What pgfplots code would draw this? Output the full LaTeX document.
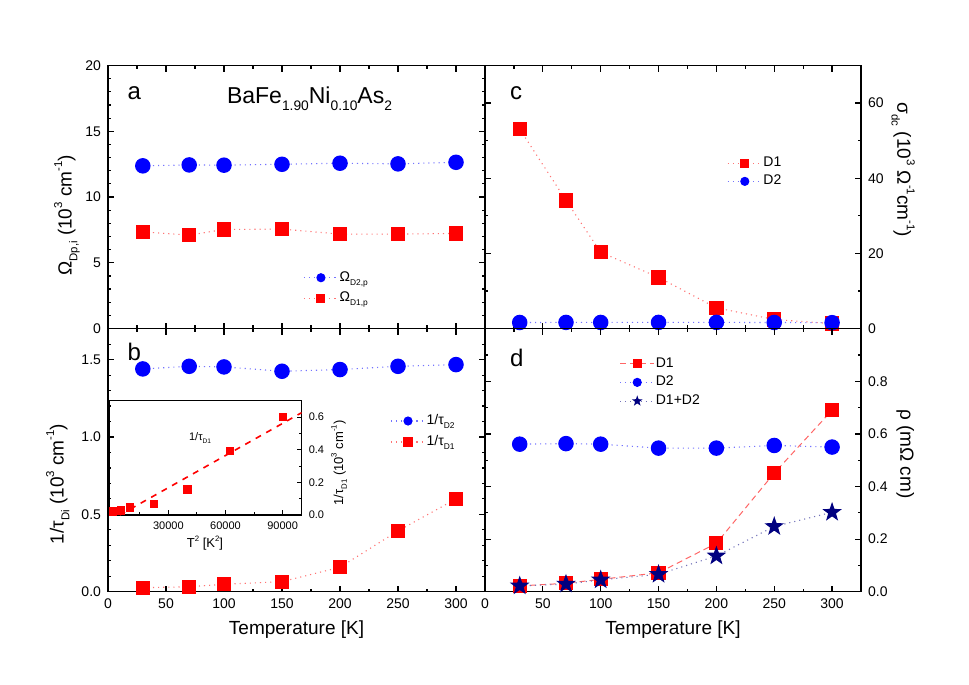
\documentclass[border=0pt]{standalone}
\usepackage{fontspec}
\setmainfont{Liberation Sans}
\usepackage{graphicx}
\usepackage{pgfplots}
\pgfplotsset{compat=1.18}
\usetikzlibrary{plotmarks}
\definecolor{Red}{HTML}{FF0000}
\definecolor{Blue}{HTML}{0000FF}
\definecolor{Navy}{HTML}{000080}

\newcommand{\fs}[1]{\fontsize{#1}{#1}\selectfont}
\newcommand{\lo}[1]{\raisebox{-0.3em}{\scalebox{0.6}{#1}}}
\newcommand{\hi}[1]{\raisebox{0.5em}{\scalebox{0.6}{#1}}}

% filled five-point star
\pgfdeclareplotmark{fstar}{%
  \pgfpathmoveto{\pgfpointpolar{90}{\pgfplotmarksize}}%
  \pgfpathlineto{\pgfpointpolar{126}{0.4\pgfplotmarksize}}%
  \pgfpathlineto{\pgfpointpolar{162}{\pgfplotmarksize}}%
  \pgfpathlineto{\pgfpointpolar{198}{0.4\pgfplotmarksize}}%
  \pgfpathlineto{\pgfpointpolar{234}{\pgfplotmarksize}}%
  \pgfpathlineto{\pgfpointpolar{270}{0.4\pgfplotmarksize}}%
  \pgfpathlineto{\pgfpointpolar{306}{\pgfplotmarksize}}%
  \pgfpathlineto{\pgfpointpolar{342}{0.4\pgfplotmarksize}}%
  \pgfpathlineto{\pgfpointpolar{18}{\pgfplotmarksize}}%
  \pgfpathlineto{\pgfpointpolar{54}{0.4\pgfplotmarksize}}%
  \pgfpathclose
  \pgfusepathqfillstroke}

\pgfplotsset{
  panel/.style={
    scale only axis, width=188.5pt, height=131.5pt,
    xmin=0, xmax=325, xtick={0,50,...,300}, minor xtick={25,75,...,325},
    tick align=inside, major tick length=3pt, minor tick length=1.6pt,
    axis line style={line width=0.75pt}, tick style={line width=0.6pt,black},
    tick label style={font=\fs{7}}, label style={font=\fs{9.5}},
    /pgf/number format/assume math mode=true,
    legend cell align=left,
    legend style={draw=none, fill=none, font=\fs{7}, anchor=north west, inner sep=0pt,
      nodes={inner sep=0.5pt, text height=5.2pt, text depth=1.8pt}},
    legend image post style={mark size=2pt},
  },
  onedec/.style={yticklabel style={/pgf/number format/.cd, fixed, fixed zerofill, precision=1}},
  bl/.style={Blue!55, dotted, line width=0.55pt, mark=*, mark size=3.6pt, mark options={solid, fill=Blue, draw=Blue}},
  rd/.style={Red!55, dotted, line width=0.55pt, mark=square*, mark size=3.3pt, mark options={solid, fill=Red, draw=Red}},
}

\begin{document}
\begin{tikzpicture}
\useasboundingbox (0,0) rectangle (484.5pt,-342.5pt);

% ---------- a ----------
\begin{axis}[panel, at={(54pt,-164.25pt)}, anchor=south west,
  ymin=0, ymax=20, ytick={0,5,...,20}, minor ytick={0,1,...,20}, xticklabels={},
  ylabel={Ω\lo{Dp,i} (10\hi{3} cm\hi{-1})},
  ylabel style={at={(rel axis cs:-0.109,0.43)}, anchor=center},
  legend style={at={(rel axis cs:0.517,0.225)}, row sep=2.2pt}]
\addplot[bl] coordinates {(30,12.37) (70,12.44) (100,12.42) (150,12.49) (200,12.57) (250,12.52) (300,12.64)};
\addlegendentry{Ω\lo{D2,p}}
\addplot[rd] coordinates {(30,7.35) (70,7.10) (100,7.53) (150,7.56) (200,7.18) (250,7.18) (300,7.23)};
\addlegendentry{Ω\lo{D1,p}}
\node[anchor=base west, font=\fs{12}] at (rel axis cs:0.033,0.869) {a};
\node[anchor=base west, font=\fs{11.5}] at (rel axis cs:0.297,0.856) {BaFe\lo{1.90}Ni\lo{0.10}As\lo{2}};
\end{axis}

% ---------- b ----------
\begin{axis}[panel, onedec, at={(54pt,-295.85pt)}, anchor=south west,
  ymin=0, ymax=1.7, ytick={0,0.5,1,1.5}, minor ytick={0,0.1,...,1.7},
  xlabel={Temperature [K]},
  xlabel style={at={(rel axis cs:0.5,-0.144)}, anchor=center},
  ylabel={1/τ\lo{Di} (10\hi{3} cm\hi{-1})},
  ylabel style={at={(rel axis cs:-0.133,0.41)}, anchor=center},
  legend style={at={(rel axis cs:0.748,0.681)}, row sep=2.5pt}]
\addplot[bl] coordinates {(30,1.440) (70,1.457) (100,1.453) (150,1.425) (200,1.436) (250,1.457) (300,1.468)};
\addlegendentry{1/τ\lo{D2}}
\addplot[rd] coordinates {(30,0.026) (70,0.032) (100,0.048) (150,0.065) (200,0.158) (250,0.393) (300,0.600)};
\addlegendentry{1/τ\lo{D1}}
\node[anchor=base west, font=\fs{12}] at (rel axis cs:0.033,0.881) {b};
\end{axis}

% ---------- inset of b ----------
\begin{axis}[scale only axis, width=96.2pt, height=57.15pt, at={(54.65pt,-257.5pt)}, anchor=south west,
  xmin=-1000, xmax=100000, ymin=0, ymax=0.7,
  xtick={30000,60000,90000}, minor xtick={15000,45000,75000},
  ytick={0,0.2,0.4,0.6}, minor ytick={0.1,0.3,0.5},
  xtick pos=bottom, ytick pos=right, yticklabel pos=right,
  tick align=inside, major tick length=2.5pt, minor tick length=1.3pt,
  axis line style={line width=0.7pt}, tick style={line width=0.5pt,black},
  scaled x ticks=false,
  /pgf/number format/assume math mode=true,
  xticklabel style={/pgf/number format/1000 sep={}},
  yticklabel style={/pgf/number format/.cd, fixed, fixed zerofill, precision=1},
  tick label style={font=\fs{5.5}}, label style={font=\fs{6.5}},
  xlabel={T\hi{2} [K\hi{2}]},
  xlabel style={at={(rel axis cs:0.497,-0.245)}, anchor=center},
  ylabel={1/τ\lo{D1} (10\hi{3} cm\hi{-1})},
  ylabel style={at={(rel axis cs:1.194,0.455)}, anchor=center, rotate=0}]
\addplot[Red, dashed, line width=0.8pt] coordinates {(4500,0.0) (100000,0.627)};
\addplot[only marks, mark=square*, mark size=1.8pt, mark options={fill=Red, draw=Red}] coordinates {(900,0.022) (4900,0.028) (10000,0.047) (22500,0.068) (40000,0.157) (62500,0.391) (90000,0.600)};
\node[anchor=base west, font=\fs{5.5}] at (rel axis cs:0.378,0.656) {1/τ\lo{D1}};
\end{axis}

% ---------- c ----------
\begin{axis}[panel, at={(242.5pt,-164.25pt)}, anchor=south west, width=188pt,
  ymin=0, ymax=70, ytick={0,20,40,60}, minor ytick={0,10,...,70}, xticklabels={},
  yticklabel pos=right,
  ylabel={σ\lo{dc} (10\hi{3} Ω\hi{-1}cm\hi{-1})},
  ylabel style={at={(rel axis cs:1.112,0.603)}, anchor=center, rotate=180},
  legend style={at={(rel axis cs:0.643,0.661)}, row sep=1.15pt}]
\addplot[rd] coordinates {(30,53.1) (70,34.1) (100,20.3) (150,13.6) (200,5.5) (250,2.4) (300,1.3)};
\addlegendentry{D1}
\addplot[bl] coordinates {(30,1.60) (70,1.62) (100,1.61) (150,1.63) (200,1.62) (250,1.60) (300,1.55)};
\addlegendentry{D2}
\node[anchor=base west, font=\fs{12}] at (rel axis cs:0.048,0.869) {c};
\end{axis}

% ---------- d ----------
\begin{axis}[panel, onedec, at={(242.5pt,-295.85pt)}, anchor=south west, width=188pt,
  ymin=0, ymax=1.0, ytick={0,0.2,0.4,0.6,0.8}, minor ytick={0,0.1,...,1.0},
  yticklabel pos=right,
  xlabel={Temperature [K]},
  xlabel style={at={(rel axis cs:0.5,-0.144)}, anchor=center},
  ylabel={ρ (mΩ cm)},
  ylabel style={at={(rel axis cs:1.118,0.524)}, anchor=center, rotate=180},
  legend style={at={(rel axis cs:0.357,0.899)}, row sep=1.35pt}]
\addplot[Red!60, densely dashed, line width=0.5pt, mark=square*, mark size=3.3pt, mark options={solid, fill=Red, draw=Red}]
  coordinates {(30,0.022) (70,0.032) (100,0.047) (150,0.072) (200,0.184) (250,0.451) (300,0.690)};
\addlegendentry{D1}
\addplot[bl] coordinates {(30,0.561) (70,0.563) (100,0.561) (150,0.546) (200,0.546) (250,0.556) (300,0.550)};
\addlegendentry{D2}
\addplot[Navy!55, dotted, line width=0.55pt, mark=fstar, mark size=4.3pt, mark options={solid, fill=Navy, draw=Navy}]
  coordinates {(30,0.022) (70,0.029) (100,0.045) (150,0.066) (200,0.136) (250,0.248) (300,0.302)};
\addlegendentry{D1+D2}
\node[anchor=base west, font=\fs{12}] at (rel axis cs:0.048,0.856) {d};
\end{axis}
\end{tikzpicture}
\end{document}
